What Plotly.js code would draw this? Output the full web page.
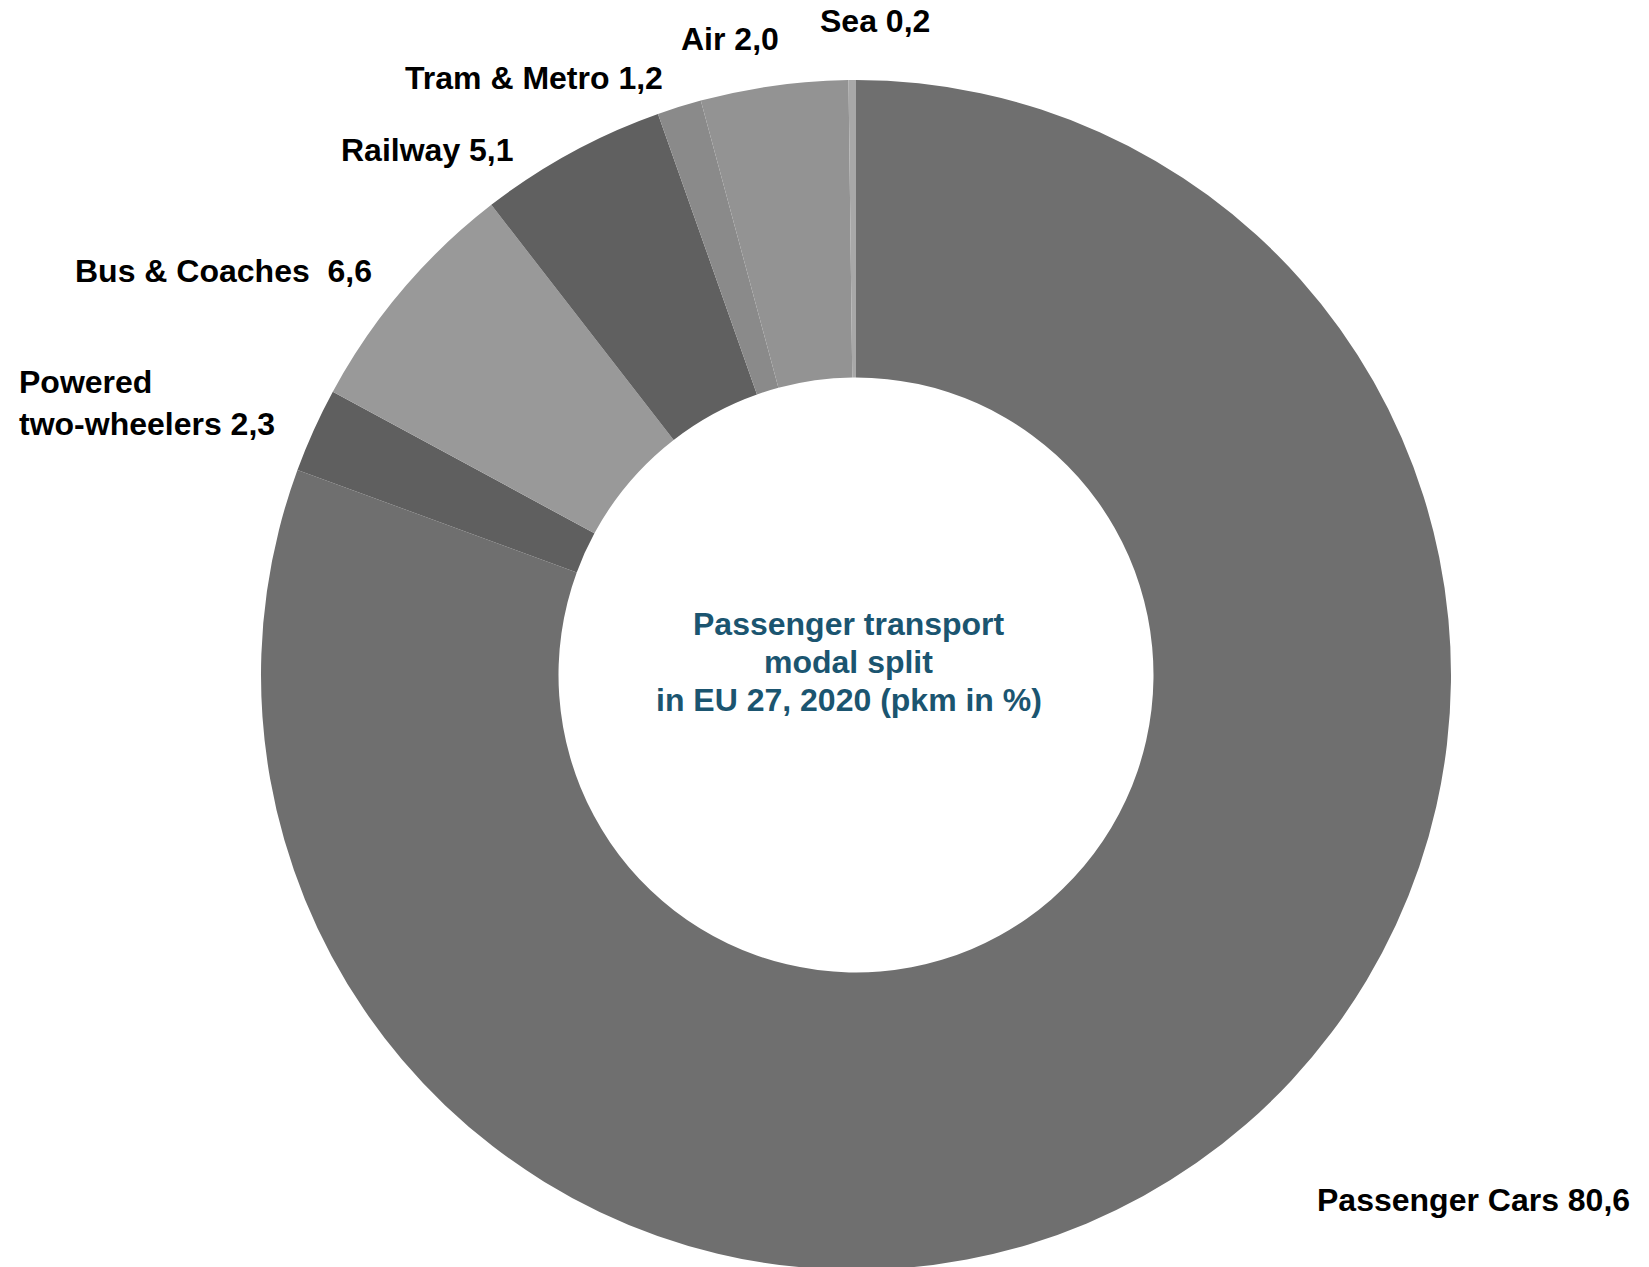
<!DOCTYPE html>
<html>
<head>
<meta charset="utf-8">
<script src="https://cdn.plot.ly/plotly-3.0.1.min.js"></script>
<style>
  html, body { margin: 0; padding: 0; overflow: hidden; background: #ffffff; }
  #chart { width: 1649px; }
</style>
</head>
<body>
<div id="chart"></div>
<script>
// Categories in drawing order (clockwise from 12 o'clock)
const categories = ["Passenger Cars", "Powered two-wheelers", "Bus & Coaches", "Railway", "Tram & Metro", "Air", "Sea"];
// Slice shares as drawn in the picture (%)
const sliceShares = [80.6, 2.3, 6.6, 5.1, 1.2, 4.0, 0.2];
// Numbers printed in the labels
const printedValues = ["80,6", "2,3", "6,6", "5,1", "1,2", "2,0", "0,2"];
// Label texts as they appear
const labelTexts = [
  "Passenger Cars 80,6",
  "Powered<br>two-wheelers 2,3",
  "Bus & Coaches\u00A0 6,6",
  "Railway 5,1",
  "Tram & Metro 1,2",
  "Air 2,0",
  "Sea 0,2"
];
const sliceColors = ["#6f6f6f", "#5f5f5f", "#999999", "#606060", "#8a8a8a", "#939393", "#a8a8a8"];
const centerTitleLines = ["Passenger transport", "modal split", "in EU 27, 2020 (pkm in %)"];

const W = 1649, H = 1350;
const cx = 856, cy = 675, R = 595;
const px = x => x / W;
const py = y => 1 - y / H;

// label anchor positions (pixels, left edge / vertical middle)
const labelPos = [
  [1315, 1200],
  [17, 403],
  [73, 271],
  [339, 150],
  [403, 78],
  [679, 39],
  [818, 21]
];
const centerLineY = [624, 662, 700];

const font = "Arial, 'Liberation Sans', sans-serif";

const annotations = labelTexts.map((t, i) => ({
  text: "<b>" + t + "</b>",
  xref: "paper", yref: "paper",
  x: px(labelPos[i][0]), y: py(labelPos[i][1]),
  xanchor: "left", yanchor: "middle",
  align: "left",
  showarrow: false,
  font: { family: font, size: 32, color: "#000000" }
}));

centerTitleLines.forEach((t, i) => {
  annotations.push({
    text: "<b>" + t + "</b>",
    xref: "paper", yref: "paper",
    x: px(849), y: py(centerLineY[i]),
    xanchor: "center", yanchor: "middle",
    align: "center",
    showarrow: false,
    font: { family: font, size: 32, color: "#1b5570" }
  });
});

const trace = {
  type: "pie",
  labels: categories,
  values: sliceShares,
  customdata: printedValues,
  sort: false,
  direction: "clockwise",
  rotation: 0,
  hole: 0.5,
  textinfo: "none",
  hoverinfo: "label",
  marker: { colors: sliceColors, line: { width: 0 } },
  domain: { x: [px(cx - R), px(cx + R)], y: [py(cy + R), py(cy - R)] },
  showlegend: false
};

const layout = {
  width: W, height: H,
  margin: { l: 0, r: 0, t: 0, b: 0 },
  paper_bgcolor: "#ffffff",
  plot_bgcolor: "#ffffff",
  showlegend: false,
  annotations: annotations
};

Plotly.newPlot("chart", [trace], layout, { displayModeBar: false, staticPlot: true });
</script>
</body>
</html>
